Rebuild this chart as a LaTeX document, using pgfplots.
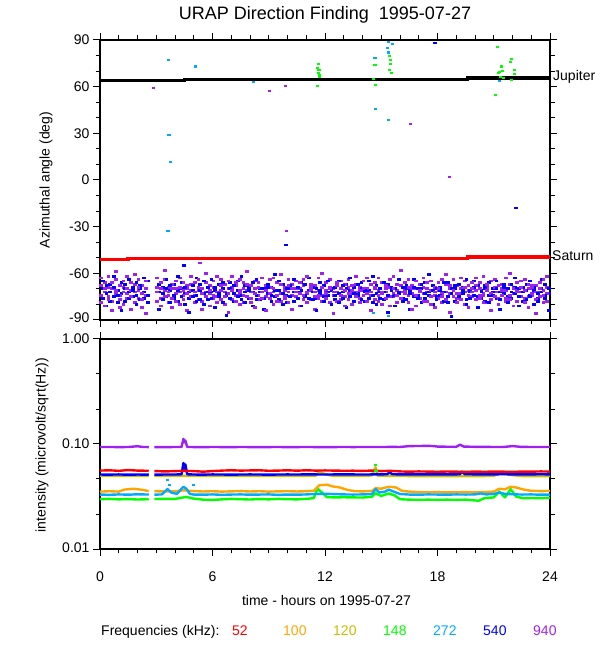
\documentclass[border=0pt]{standalone}
\usepackage{fontspec}
\setmainfont{Liberation Sans}
\usepackage{pgfplots}
\pgfplotsset{compat=1.18}
\usepackage{pgfplotstable}
\definecolor{c52}{RGB}{255,0,0}
\definecolor{c100}{RGB}{255,165,0}
\definecolor{c120}{RGB}{200,190,0}
\definecolor{c148}{RGB}{0,255,0}
\definecolor{c272}{RGB}{0,170,255}
\definecolor{c540}{RGB}{0,0,255}
\definecolor{c940}{RGB}{160,32,240}

\pgfplotstableread{
x p1 p2 p3 p4
0.05 -68 -74 -79 -63
0.25 -72 -66 -81 -70
0.45 -75 -69 -62 -77
0.65 -70 -78 -66 -84
0.85 -64 -73 -71 -59
1.05 -77 -68 -74 -82
1.25 -69 -80 -65 -72
1.45 -73 -62 -76 -70
1.65 -66 -71 -83 -75
1.85 -79 -67 -72 -61
2.05 -71 -76 -64 -69
2.25 -68 -82 -73 -77
2.45 -74 -65 -70 -86
3.05 -63 -72 -78 -69
3.25 -76 -70 -66 -81
3.45 -71 -64 -75 -58
3.65 -69 -79 -72 -74
3.85 -82 -67 -70 -76
4.05 -65 -73 -78 -70
4.25 -72 -69 -63 -80
4.45 -77 -71 -74 -66
4.65 -70 -84 -68 -73
4.85 -67 -75 -71 -62
5.05 -74 -66 -79 -72
5.25 -71 -77 -64 -69
5.45 -78 -70 -73 -83
5.65 -66 -72 -75 -60
5.85 -73 -68 -81 -71
6.05 -69 -76 -65 -74
6.25 -75 -62 -72 -79
6.45 -64 -71 -77 -68
6.65 -72 -80 -67 -75
6.85 -70 -65 -73 -85
7.05 -77 -69 -62 -71
7.25 -68 -74 -78 -66
7.45 -73 -71 -64 -80
7.65 -66 -79 -70 -74
7.85 -71 -67 -75 -59
8.05 -79 -72 -68 -76
8.25 -65 -70 -82 -73
8.45 -74 -77 -66 -69
8.65 -70 -63 -76 -72
8.85 -68 -75 -71 -84
9.05 -76 -69 -73 -64
9.25 -63 -72 -80 -70
9.45 -71 -66 -74 -78
9.65 -78 -73 -67 -61
9.85 -69 -76 -71 -75
10.05 -72 -64 -79 -68
10.25 -67 -74 -70 -83
10.45 -75 -70 -65 -72
10.65 -70 -81 -73 -66
10.85 -64 -68 -77 -74
11.05 -73 -72 -62 -79
11.25 -77 -67 -71 -69
11.45 -68 -75 -83 -72
11.65 -71 -63 -74 -76
11.85 -74 -78 -69 -60
12.05 -66 -71 -76 -73
12.25 -79 -69 -64 -70
12.45 -70 -74 -72 -86
12.65 -72 -66 -78 -68
12.85 -65 -77 -70 -74
13.05 -75 -71 -67 -81
13.25 -69 -64 -73 -77
13.45 -73 -80 -68 -71
13.65 -67 -72 -75 -62
13.85 -76 -69 -71 -79
14.05 -71 -74 -65 -70
14.25 -63 -70 -78 -73
14.45 -74 -67 -72 -84
14.65 -70 -77 -66 -69
14.85 -78 -71 -74 -63
15.05 -66 -73 -80 -72
15.25 -72 -68 -70 -76
15.45 -69 -75 -64 -81
15.65 -75 -62 -73 -70
15.85 -71 -79 -67 -74
16.05 -68 -72 -76 -58
16.25 -77 -66 -71 -73
16.45 -64 -74 -79 -69
16.65 -73 -70 -68 -83
16.85 -70 -81 -74 -65
17.05 -76 -67 -72 -71
17.25 -69 -73 -63 -78
17.45 -72 -78 -70 -66
17.65 -65 -71 -75 -80
17.85 -74 -69 -82 -72
18.05 -71 -76 -66 -70
18.25 -79 -64 -73 -75
18.45 -67 -72 -77 -61
18.65 -73 -70 -68 -85
18.85 -70 -75 -71 -64
19.05 -76 -68 -79 -73
19.25 -63 -73 -70 -77
19.45 -72 -80 -65 -69
19.65 -68 -71 -74 -82
19.85 -75 -66 -72 -70
20.05 -71 -77 -68 -63
20.25 -66 -70 -76 -74
20.45 -74 -73 -62 -79
20.65 -69 -79 -71 -67
20.85 -77 -65 -73 -84
21.05 -64 -72 -69 -75
21.25 -72 -76 -80 -68
21.45 -70 -67 -74 -71
21.65 -78 -71 -63 -76
21.85 -67 -74 -77 -60
22.05 -73 -69 -70 -81
22.25 -71 -78 -66 -72
22.45 -65 -72 -75 -69
22.65 -76 -64 -71 -79
22.85 -70 -75 -82 -67
23.05 -74 -70 -68 -73
23.25 -68 -77 -72 -86
23.45 -72 -66 -75 -70
23.65 -79 -71 -64 -74
23.85 -69 -73 -78 -62
}\purpletab

\pgfplotstableread{
x b1 b2 b3
0.15 -70 -76 -65
0.35 -73 -81 -68
0.55 -67 -72 -78
0.75 -75 -69 -62
0.95 -71 -79 -74
1.15 -66 -73 -84
1.35 -78 -70 -67
1.55 -72 -64 -76
1.75 -69 -75 -71
1.95 -74 -80 -66
2.15 -70 -68 -77
2.35 -76 -72 -63
2.55 -65 -74 -79
3.15 -72 -67 -83
3.35 -69 -77 -73
3.55 -75 -70 -64
3.75 -71 -79 -68
3.95 -67 -74 -76
4.15 -78 -71 -62
4.35 -70 -66 -75
4.55 -73 -80 -69
4.75 -76 -72 -85
4.95 -68 -75 -71
5.15 -74 -63 -78
5.35 -71 -77 -67
5.55 -65 -73 -80
5.75 -77 -69 -72
5.95 -72 -76 -64
6.15 -69 -71 -82
6.35 -75 -67 -73
6.55 -70 -79 -66
6.75 -73 -74 -87
6.95 -66 -70 -76
7.15 -78 -73 -68
7.35 -71 -65 -75
7.55 -74 -77 -62
7.75 -68 -72 -79
7.95 -76 -69 -71
8.15 -72 -81 -66
8.35 -64 -74 -77
8.55 -77 -70 -72
8.75 -70 -76 -83
8.95 -73 -67 -69
9.15 -69 -78 -74
9.35 -75 -71 -61
9.55 -71 -65 -77
9.75 -67 -73 -80
9.95 -74 -79 -70
10.15 -70 -68 -75
10.35 -78 -72 -64
10.55 -72 -76 -69
10.75 -66 -71 -81
10.95 -75 -74 -67
11.15 -71 -63 -76
11.35 -69 -77 -72
11.55 -76 -70 -84
11.75 -73 -66 -71
11.95 -68 -75 -78
12.15 -74 -72 -65
12.35 -71 -80 -70
12.55 -77 -69 -74
12.75 -65 -73 -79
12.95 -72 -76 -68
13.15 -70 -67 -82
13.35 -75 -71 -63
13.55 -69 -78 -73
13.75 -73 -74 -67
13.95 -66 -70 -77
14.15 -78 -72 -71
14.35 -71 -65 -76
14.55 -74 -79 -62
14.75 -68 -73 -80
14.95 -76 -70 -72
15.15 -72 -77 -66
15.35 -67 -74 -85
15.55 -75 -69 -71
15.75 -70 -81 -74
15.95 -73 -72 -64
16.15 -69 -76 -78
16.35 -77 -68 -70
16.55 -71 -73 -83
16.75 -64 -75 -69
16.95 -74 -70 -76
17.15 -70 -79 -67
17.35 -76 -66 -73
17.55 -72 -74 -61
17.75 -68 -71 -80
17.95 -75 -77 -70
18.15 -71 -69 -74
18.35 -78 -72 -66
18.55 -66 -75 -79
18.75 -73 -70 -88
18.95 -70 -78 -68
19.15 -74 -67 -75
19.35 -69 -73 -71
19.55 -77 -80 -64
19.75 -72 -71 -76
19.95 -65 -74 -69
20.15 -75 -68 -82
20.35 -71 -76 -72
20.55 -68 -70 -78
20.75 -74 -79 -66
20.95 -70 -72 -74
21.15 -76 -65 -70
21.35 -72 -77 -83
21.55 -69 -73 -67
21.75 -75 -70 -79
21.95 -67 -76 -72
22.15 -73 -69 -63
22.35 -70 -81 -75
22.55 -78 -72 -69
22.75 -71 -67 -77
22.95 -74 -75 -65
23.15 -69 -71 -80
23.35 -76 -78 -73
23.55 -72 -64 -70
23.75 -67 -74 -76
23.95 -73 -70 -84
}\bluetab

\pgfplotsset{
  urap/.style={
    scale only axis, width=450bp,
    xmin=0, xmax=24,
    xtick={0,6,12,18,24},
    minor xtick={1,2,3,4,5,7,8,9,10,11,13,14,15,16,17,19,20,21,22,23},
    tick align=outside,
    major tick length=7bp, minor tick length=4.5bp,
    every tick/.append style={black, line width=1bp},
    axis line style={line width=1.2bp},
    tick label style={font=\fontsize{14bp}{16bp}\selectfont},
    clip=false,
  },
  dot/.style={only marks, mark=-, mark size=1.6bp, mark options={line width=2.2bp}},
  cloud/.style={only marks, mark=-, mark size=1.9bp, mark options={line width=2.8bp}},
  curve/.style={no markers, line width=2.4bp, line join=round, unbounded coords=jump},
}

\begin{document}
\begin{tikzpicture}[x=1bp,y=1bp]
\path[use as bounding box] (0,0) rectangle (600,650);

% ---------------- top panel ----------------
\begin{axis}[urap, at={(100bp,330bp)}, anchor=south west, height=280bp,
  ymin=-90, ymax=90,
  ytick={-90,-60,-30,0,30,60,90},
  minor ytick={-80,-70,-50,-40,-20,-10,10,20,40,50,70,80},
  yticklabels={\raisebox{4bp}{-90},-60,-30,0,30,60,\raisebox{-5bp}{90}},
  xticklabels={},
]
\addplot[cloud, c940] table[x=x,y=p1] {\purpletab};
\addplot[cloud, c540] table[x=x,y=b1] {\bluetab};
\addplot[cloud, c940] table[x=x,y=p2] {\purpletab};
\addplot[cloud, c540] table[x=x,y=b2] {\bluetab};
\addplot[cloud, c940] table[x=x,y=p3] {\purpletab};
\addplot[cloud, c540] table[x=x,y=b3] {\bluetab};
\addplot[cloud, c940] table[x=x,y=p4] {\purpletab};
% sparse points
\addplot[dot, c272] coordinates {(3.64,77.1)(5.1,72.9)(3.68,28.9)(3.77,11.4)(8.18,63.2)(3.63,-32.6)(14.67,78.6)(14.7,45.6)(15.4,88.9)(15.35,84.6)(15.4,81.9)(15.6,87.6)(15.4,38.4)(21.3,63.6)(14.6,-85.3)(15.4,-87.2)};
\addplot[dot, c148] coordinates {(11.65,74.4)(11.62,72)(11.68,70.5)(11.66,69)(11.7,67.5)(11.7,66)(11.6,60.4)(14.67,73.7)(14.6,64.7)(14.7,61)(15.45,79.7)(15.5,76.9)(15.5,74.4)(15.45,70.7)(15.55,68.6)(21.2,85.7)(21.25,68.6)(21.3,69.6)(21.35,66.4)(21.1,54.4)(21.4,72.9)(21.45,69.9)(21.5,65.6)(21.96,78)(21.9,75.6)(21.95,64.3)(22.1,70.7)(22.1,68.1)};
\addplot[dot, c940] coordinates {(2.86,59.3)(9.03,57.4)(9.9,60.2)(16.57,36.2)(18.65,1.7)(9.96,-32.6)(5.33,-53.6)};
\addplot[dot, c540] coordinates {(17.87,88.3)(9.92,-41.8)(22.19,-18)(4.48,-55)};
% Jupiter and Saturn
\addplot[black, line width=3.4bp, no markers] coordinates {(0,64.1)(4.5,64.1)(4.5,64.7)(19.6,64.7)(19.6,65.6)(24,65.6)};
\addplot[c52, line width=3.4bp, no markers] coordinates {(0,-51)(1.5,-51)(1.5,-50.4)(19.6,-50.4)(19.6,-49.5)(24,-49.5)};
\end{axis}

% ---------------- bottom panel ----------------
\begin{axis}[urap, at={(100bp,101bp)}, anchor=south west, height=210bp,
  ymode=log, ymin=0.01, ymax=1,
  ytick={0.01,0.1,1},
  minor ytick={0.02154,0.04642,0.2154,0.4642},
  yticklabels={\raisebox{3bp}{0.01},0.10,\raisebox{-5bp}{1.00}},
  xticklabels={0,6,12,18,24},
  xtick pos=bottom,
  xticklabel style={yshift=-12bp},
]
\addplot[curve, c148] coordinates {(0,0.0298)(0.5,0.03)(1,0.0297)(1.5,0.0299)(2,0.0296)(2.6,0.0298)(2.75,nan)(2.9,0.0299)(3.5,0.0301)(4,0.03)(4.6,0.0313)(5,0.0302)(5.5,0.0295)(6,0.0293)(6.5,0.0297)(7,0.03)(7.5,0.0298)(8,0.0296)(8.5,0.0299)(9,0.0297)(9.5,0.03)(10,0.0298)(10.5,0.0297)(11,0.03)(11.4,0.0305)(11.6,0.0375)(11.8,0.035)(12.1,0.0312)(12.5,0.031)(13,0.0311)(13.5,0.031)(14,0.0309)(14.5,0.0315)(14.7,0.034)(15,0.032)(15.4,0.0338)(15.7,0.0325)(16,0.0298)(16.5,0.0295)(17,0.0294)(17.5,0.0295)(18,0.0294)(18.5,0.0295)(19,0.0294)(19.5,0.0295)(20,0.029)(20.2,0.0288)(20.5,0.0305)(21,0.031)(21.3,0.0352)(21.6,0.031)(21.9,0.0372)(22.2,0.0315)(22.6,0.0304)(23,0.0306)(23.5,0.0305)(24,0.0307)};
\addplot[curve, c100] coordinates {(0,0.0352)(0.5,0.0355)(1,0.0352)(1.3,0.0368)(1.8,0.0375)(2.3,0.0365)(2.6,0.0356)(2.75,nan)(2.9,0.0355)(3.5,0.0353)(4,0.0355)(4.5,0.0362)(5,0.0356)(5.5,0.0353)(6,0.0355)(6.5,0.0352)(7,0.0354)(7.5,0.0356)(8,0.0353)(8.5,0.0355)(9,0.0352)(9.5,0.0354)(10,0.0355)(10.5,0.0353)(11,0.0355)(11.4,0.0358)(11.7,0.0405)(12.1,0.041)(12.4,0.0395)(12.8,0.0385)(13.2,0.0365)(13.6,0.0355)(14,0.0354)(14.5,0.0356)(14.7,0.038)(15,0.0375)(15.4,0.0392)(15.8,0.0385)(16.1,0.0358)(16.5,0.0352)(17,0.0348)(17.5,0.0347)(18,0.0348)(18.5,0.0346)(19,0.0347)(19.5,0.0348)(20,0.0346)(20.5,0.0348)(21,0.0352)(21.3,0.0375)(21.6,0.037)(21.9,0.0392)(22.2,0.0385)(22.6,0.0368)(23,0.0358)(23.5,0.0356)(24,0.0357)};
\addplot[curve, c272] coordinates {(0,0.033)(0.5,0.0328)(1,0.0331)(1.5,0.0329)(2,0.0332)(2.6,0.033)(2.75,nan)(2.9,0.0329)(3.3,0.0331)(3.6,0.0372)(3.8,0.0345)(4.1,0.0335)(4.45,0.0392)(4.6,0.0375)(4.8,0.0335)(5,0.033)(5.5,0.0329)(6,0.0331)(6.5,0.0328)(7,0.033)(7.5,0.0331)(8,0.0329)(8.5,0.033)(9,0.0331)(9.5,0.0328)(10,0.033)(10.5,0.0329)(11,0.0331)(11.5,0.0334)(12,0.0336)(12.5,0.0333)(13,0.0331)(13.5,0.033)(14,0.0331)(14.5,0.0333)(14.7,0.0372)(14.9,0.0345)(15.2,0.0352)(15.4,0.0368)(15.7,0.035)(16,0.0334)(16.5,0.033)(17,0.0329)(17.5,0.0331)(18,0.033)(18.5,0.0329)(19,0.0331)(19.5,0.033)(20,0.0331)(20.3,0.0338)(20.6,0.0331)(21,0.0334)(21.3,0.0345)(21.6,0.0335)(22,0.0332)(22.5,0.033)(23,0.0331)(23.5,0.0329)(24,0.033)};
\addplot[curve, c120] coordinates {(0,0.0498)(0.5,0.0497)(1,0.0496)(1.5,0.0498)(2,0.0497)(2.6,0.0497)(2.75,nan)(2.9,0.0497)(3.5,0.0496)(4,0.0497)(4.5,0.0498)(5,0.0497)(5.5,0.0496)(6,0.0497)(6.5,0.0498)(7,0.0497)(7.5,0.0496)(8,0.0497)(8.5,0.0497)(9,0.0496)(9.5,0.0497)(10,0.0498)(10.5,0.0497)(11,0.0497)(11.5,0.05)(11.7,0.054)(12.2,0.0505)(12.5,0.0497)(13,0.0496)(13.5,0.0497)(14,0.0496)(14.5,0.0502)(14.7,0.06)(14.8,0.05)(15.5,0.0497)(16,0.0496)(16.5,0.0495)(17,0.0494)(17.5,0.0495)(18,0.0494)(18.5,0.0495)(19,0.0494)(19.5,0.0495)(20,0.0494)(20.5,0.0495)(21,0.0497)(21.3,0.053)(22,0.0505)(22.5,0.0495)(23,0.0494)(23.5,0.0495)(24,0.0495)};
\addplot[curve, c540] coordinates {(0,0.0512)(0.5,0.0511)(1,0.0513)(1.5,0.051)(2,0.0512)(2.6,0.0511)(2.75,nan)(2.9,0.0511)(3.5,0.0512)(4,0.0512)(4.35,0.0515)(4.45,0.066)(4.5,0.058)(4.55,0.064)(4.65,0.0515)(5,0.0512)(5.5,0.0511)(6,0.0513)(6.5,0.0512)(7,0.0511)(7.5,0.0512)(8,0.0513)(8.5,0.0512)(9,0.0511)(9.5,0.0512)(10,0.0513)(10.5,0.0512)(11,0.0514)(11.5,0.0513)(12,0.0512)(12.5,0.0513)(13,0.0514)(13.5,0.0513)(14,0.0512)(14.5,0.0513)(15,0.0514)(15.3,0.0515)(15.45,0.0535)(15.6,0.0515)(16,0.0514)(16.5,0.0513)(17,0.0514)(17.5,0.0513)(18,0.0514)(18.5,0.0513)(19,0.0514)(19.2,0.0516)(19.3,0.0545)(19.45,0.0516)(20,0.0514)(20.5,0.0513)(21,0.0514)(21.5,0.0515)(22,0.0514)(22.5,0.0513)(23,0.0514)(23.5,0.0515)(24,0.0514)};
\addplot[curve, c52] coordinates {(0,0.0558)(0.5,0.0562)(1,0.0555)(1.5,0.0565)(2,0.0558)(2.6,0.0556)(2.75,nan)(2.9,0.0552)(3.5,0.0548)(4,0.0552)(4.5,0.0555)(5,0.0552)(5.5,0.0545)(6,0.0552)(6.5,0.0558)(7,0.0562)(7.5,0.0558)(8,0.056)(8.5,0.0562)(9,0.0556)(9.5,0.0558)(10,0.0562)(10.5,0.0557)(11,0.0562)(11.5,0.0558)(12,0.056)(12.5,0.0558)(13,0.0556)(13.5,0.0557)(14,0.0555)(14.5,0.0558)(15,0.0552)(15.5,0.0555)(16,0.0548)(16.5,0.0545)(17,0.0548)(17.5,0.0546)(18,0.0544)(18.5,0.0547)(19,0.0545)(19.5,0.0543)(20,0.0546)(20.5,0.0544)(21,0.0546)(21.5,0.0545)(22,0.0543)(22.5,0.0546)(23,0.0545)(23.5,0.0548)(24,0.0546)};
\addplot[curve, c940] coordinates {(0,0.0935)(0.5,0.0937)(1,0.0934)(1.5,0.0936)(2,0.0952)(2.3,0.0936)(2.6,0.0935)(2.75,nan)(2.9,0.0935)(3.5,0.0934)(4,0.0936)(4.35,0.0937)(4.45,0.112)(4.5,0.104)(4.55,0.108)(4.65,0.0937)(5,0.0935)(5.5,0.0934)(6,0.0936)(6.5,0.0935)(7,0.0934)(7.5,0.0936)(8,0.0935)(8.5,0.0934)(9,0.0935)(9.5,0.0936)(10,0.0934)(10.5,0.0935)(11,0.0936)(11.5,0.0935)(12,0.0934)(12.5,0.0935)(13,0.0936)(13.5,0.0935)(14,0.0936)(14.5,0.0937)(15,0.0936)(15.5,0.0938)(16,0.0937)(16.5,0.0955)(17,0.0957)(17.5,0.096)(17.8,0.0955)(18,0.0945)(18.5,0.0942)(19,0.094)(19.2,0.0985)(19.4,0.0945)(20,0.094)(20.5,0.0938)(21,0.0937)(21.5,0.0936)(22,0.0955)(22.5,0.0938)(23,0.0937)(23.5,0.0936)(24,0.0936)};
\addplot[dot, c272] coordinates {(3.6,0.0457)(5.0,0.0404)(3.7,0.041)};
\addplot[dot, c148] coordinates {(14.7,0.0626)(14.72,0.055)};
\end{axis}
% top ticks of the bottom panel (major only)
\begin{axis}[urap, at={(100bp,101bp)}, anchor=south west, height=210bp,
  ymode=log, ymin=0.01, ymax=1, axis y line=none, axis x line*=top,
  minor xtick={}, xticklabels={}]
\end{axis}

% ---------------- texts ----------------
\node[anchor=base, font=\fontsize{18bp}{20bp}\selectfont] at (325,630.7) {URAP Direction Finding\ \ 1995-07-27};
\node[rotate=90, font=\fontsize{14bp}{16bp}\selectfont] at (46,470) {Azimuthal angle (deg)};
\node[rotate=90, font=\fontsize{14bp}{16bp}\selectfont] at (42,205) {intensity (microvolt/sqrt(Hz))};
\node[anchor=base, font=\fontsize{14bp}{16bp}\selectfont] at (326.5,44) {time - hours on 1995-07-27};
\node[anchor=west, inner sep=0, font=\fontsize{14bp}{16bp}\selectfont] at (553,572.7) {Jupiter};
\node[anchor=west, inner sep=0, font=\fontsize{14bp}{16bp}\selectfont] at (552,394) {Saturn};
\begin{scope}[every node/.style={anchor=base west, inner sep=0, font=\fontsize{14bp}{16bp}\selectfont}]
\node at (101,14) {Frequencies (kHz):};
\node[text=c52] at (232,14) {52};
\node[text=c100] at (283,14) {100};
\node[text=c120] at (333,14) {120};
\node[text=c148] at (383,14) {148};
\node[text=c272] at (433,14) {272};
\node[text=c540] at (483,14) {540};
\node[text=c940] at (533,14) {940};
\end{scope}
\end{tikzpicture}
\end{document}
